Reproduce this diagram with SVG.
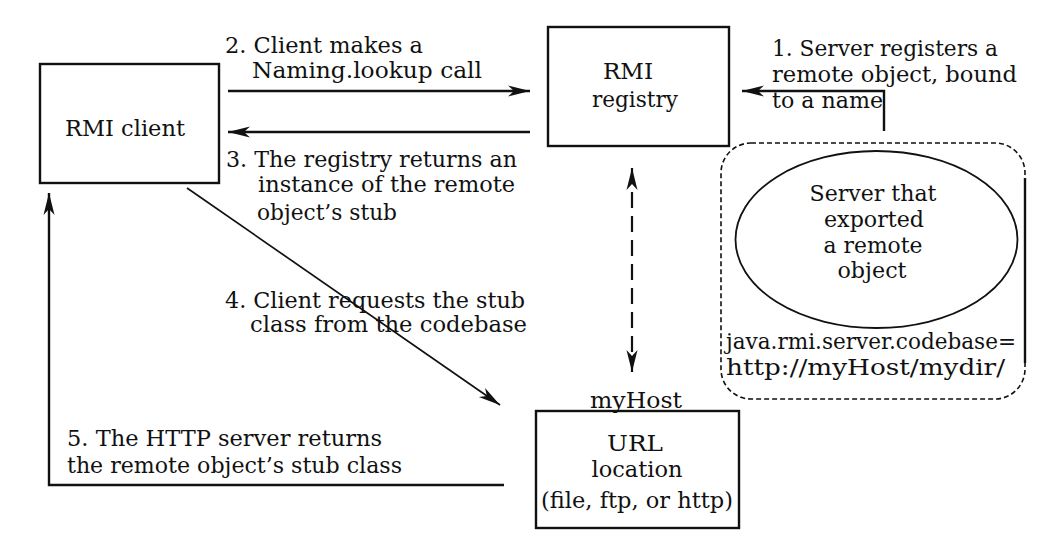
<svg xmlns="http://www.w3.org/2000/svg" width="1057" height="541" viewBox="0 0 1057 541">
<style>
text{font-family:"DejaVu Serif","Liberation Serif",serif;font-size:23px;fill:#111}
.box{fill:none;stroke:#111;stroke-width:2.4}
.ln{fill:none;stroke:#111;stroke-width:2.4}
.thin{fill:none;stroke:#111;stroke-width:1.7}
.dash{fill:none;stroke:#111;stroke-width:2.2;stroke-dasharray:16 8}
.dot{fill:none;stroke:#111;stroke-width:1.6;stroke-dasharray:5 3}
</style>
<defs>
<marker id="ah" markerUnits="userSpaceOnUse" markerWidth="24" markerHeight="14" refX="22" refY="6" orient="auto-start-reverse">
<path d="M0,0.5 L22,6 L0,11.5 L6,6 Z" fill="#111"/>
</marker>
</defs>
<rect width="1057" height="541" fill="#fff"/>

<g id="rmi-client" font-family="DejaVu Serif, serif">
<rect class="box" x="40" y="64" width="179" height="119"/>
<text x="65" y="136" textLength="120" lengthAdjust="spacingAndGlyphs">RMI client</text>
</g>

<g id="rmi-registry" font-family="DejaVu Serif, serif">
<rect class="box" x="548" y="27" width="181" height="119"/>
<text x="628" y="79" text-anchor="middle" textLength="50" lengthAdjust="spacingAndGlyphs">RMI</text>
<text x="635" y="107" text-anchor="middle" textLength="86" lengthAdjust="spacingAndGlyphs">registry</text>
</g>

<g id="server" font-family="DejaVu Serif, serif">
<path class="dot" d="M751,143 H995 A30,30 0 0 1 1025,173 V369 A30,30 0 0 1 995,399 H751 A30,30 0 0 1 721,369 V173 A30,30 0 0 1 751,143 Z"/>
<line class="ln" x1="1025" y1="178" x2="1025" y2="363"/>
<ellipse cx="876.5" cy="239.5" rx="141" ry="88.5" fill="none" stroke="#111" stroke-width="1.8"/>
<text x="873" y="201" text-anchor="middle" textLength="127" lengthAdjust="spacingAndGlyphs">Server that</text>
<text x="874" y="227" text-anchor="middle" textLength="100" lengthAdjust="spacingAndGlyphs">exported</text>
<text x="873" y="253" text-anchor="middle" textLength="99" lengthAdjust="spacingAndGlyphs">a remote</text>
<text x="872" y="278" text-anchor="middle" textLength="69" lengthAdjust="spacingAndGlyphs">object</text>
<text x="726" y="349" textLength="290" lengthAdjust="spacingAndGlyphs">java.rmi.server.codebase=</text>
<text x="726" y="375" textLength="279" lengthAdjust="spacingAndGlyphs">http://myHost/mydir/</text>
</g>

<g id="url-location" font-family="DejaVu Serif, serif">
<text x="636" y="408" text-anchor="middle" textLength="92" lengthAdjust="spacingAndGlyphs">myHost</text>
<rect class="box" x="536" y="411" width="203" height="117"/>
<text x="635" y="451" text-anchor="middle" textLength="56" lengthAdjust="spacingAndGlyphs">URL</text>
<text x="637" y="477" text-anchor="middle" textLength="91" lengthAdjust="spacingAndGlyphs">location</text>
<text x="541" y="508" textLength="192" lengthAdjust="spacingAndGlyphs">(file, ftp, or http)</text>
</g>

<g id="connectors">
<path class="ln" d="M884,131 V91 H742" marker-end="url(#ah)"/>
<line class="ln" x1="228" y1="91" x2="530" y2="91" marker-end="url(#ah)"/>
<line class="ln" x1="530" y1="132" x2="228" y2="132" marker-end="url(#ah)"/>
<line class="dash" x1="632" y1="168" x2="632" y2="372" marker-start="url(#ah)" marker-end="url(#ah)"/>
<line class="thin" x1="187" y1="188" x2="500" y2="405" marker-end="url(#ah)"/>
<path class="ln" d="M504,485 H49 V193" marker-end="url(#ah)"/>
</g>

<g id="labels" font-family="DejaVu Serif, serif">
<text x="772" y="56" textLength="226" lengthAdjust="spacingAndGlyphs">1. Server registers a</text>
<text x="772" y="82" textLength="245" lengthAdjust="spacingAndGlyphs">remote object, bound</text>
<text x="772" y="108" textLength="111" lengthAdjust="spacingAndGlyphs">to a name</text>
<text x="225" y="53" textLength="198" lengthAdjust="spacingAndGlyphs">2. Client makes a</text>
<text x="252" y="78" textLength="230" lengthAdjust="spacingAndGlyphs">Naming.lookup call</text>
<text x="226" y="167" textLength="291" lengthAdjust="spacingAndGlyphs">3. The registry returns an</text>
<text x="258" y="192" textLength="257" lengthAdjust="spacingAndGlyphs">instance of the remote</text>
<text x="257" y="220" textLength="140" lengthAdjust="spacingAndGlyphs">object’s stub</text>
<text x="225" y="308" textLength="300" lengthAdjust="spacingAndGlyphs">4. Client requests the stub</text>
<text x="250" y="332" textLength="277" lengthAdjust="spacingAndGlyphs">class from the codebase</text>
<text x="67" y="446" textLength="315" lengthAdjust="spacingAndGlyphs">5. The HTTP server returns</text>
<text x="67" y="473" textLength="335" lengthAdjust="spacingAndGlyphs">the remote object’s stub class</text>
</g>
</svg>
